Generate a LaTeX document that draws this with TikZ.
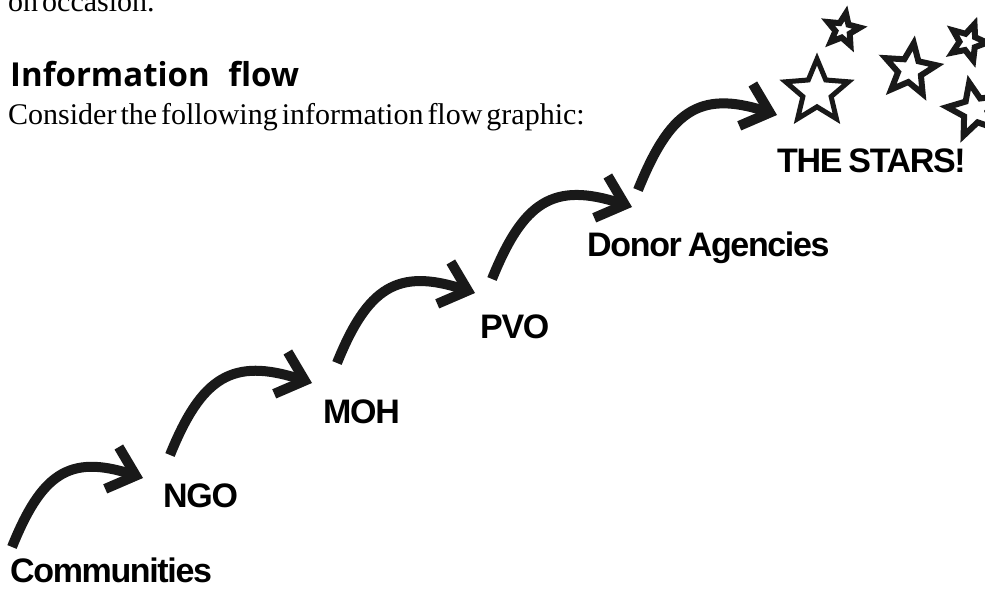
\documentclass[tikz,border=0pt]{standalone}
\usepackage{fontspec}
\setmainfont{Liberation Serif}
\newfontfamily\labelfont[LetterSpace=-4]{Liberation Sans}
\newfontfamily\headfont{Open Sans}
\newcommand\bodyfont{\fontsize{30}{36}\selectfont\spaceskip=4pt plus 1pt\relax}
\newcommand\stagefont{\labelfont\bfseries\fontsize{34}{40}\selectfont\spaceskip=6pt plus 1pt\relax}
\usetikzlibrary{arrows.meta}

\begin{document}
\begin{tikzpicture}[x=1pt,y=1pt,
  flow/.style={line width=10pt, black!90, -{Straight Barb[length=25pt,width=44pt]},
    out=68, in=162, looseness=1.35},
  stage/.style={anchor=base west, inner sep=0pt, font=\stagefont},
  body/.style={anchor=base west, inner sep=0pt, font=\bodyfont},
  starline/.style={black!90, line join=miter}]
  \useasboundingbox (0,0) rectangle (985,590);
  \clip (0,0) rectangle (985,590);

  % text above the graphic
  \node[body] (occasion) at (8,578) {on occasion.};
  \node[anchor=base west, inner sep=0pt,
    font=\headfont\bfseries\fontsize{33}{40}\selectfont] (head) at (10,503)
    {Information\hspace{0.3em} flow};
  \node[body] (consider) at (8,465) {Consider the following information flow graphic:};

  % the steps
  \node[stage] (comm) at (10,8) {Communities};
  \node[stage] (ngo) at (163,83) {NGO};
  \node[stage] (moh) at (323,167) {MOH};
  \node[stage] (pvo) at (480,252) {PVO};
  \node[stage] (donor) at (587,334) {Donor Agencies};
  \node[stage] (stars) at (777,417) {THE STARS!};

  % arrows from step to step
  \foreach \a/\b/\sa/\sb in {comm/ngo/{(2,35)}/{(-20,29)},
      ngo/moh/{(7,52)}/{(-11,40)},
      moh/pvo/{(14,60)}/{(-5,45)},
      pvo/donor/{(12,59)}/{(45,49)},
      donor/stars/{(51,66)}/{(0,58)}}
  {
    \draw[flow] ([shift={\sa}]\a.base west) to ([shift={\sb}]\b.base west);
  }

  % stars
  \foreach \cx/\cy/\rad/\rot/\lw in {817/498/33/0/5, 843/560/17/-10/6, 910/520/27/-8/6,
      968/548/19/-20/6, 975/480/28/12/6}
  {
    \draw[starline, line width=\lw, shift={(\cx,\cy)}, rotate=\rot] (90:\rad)
      \foreach \k in {1,...,9} { -- ({90+36*\k}:{\rad*(1-0.55*mod(\k,2))}) } -- cycle;
  }
\end{tikzpicture}
\end{document}
